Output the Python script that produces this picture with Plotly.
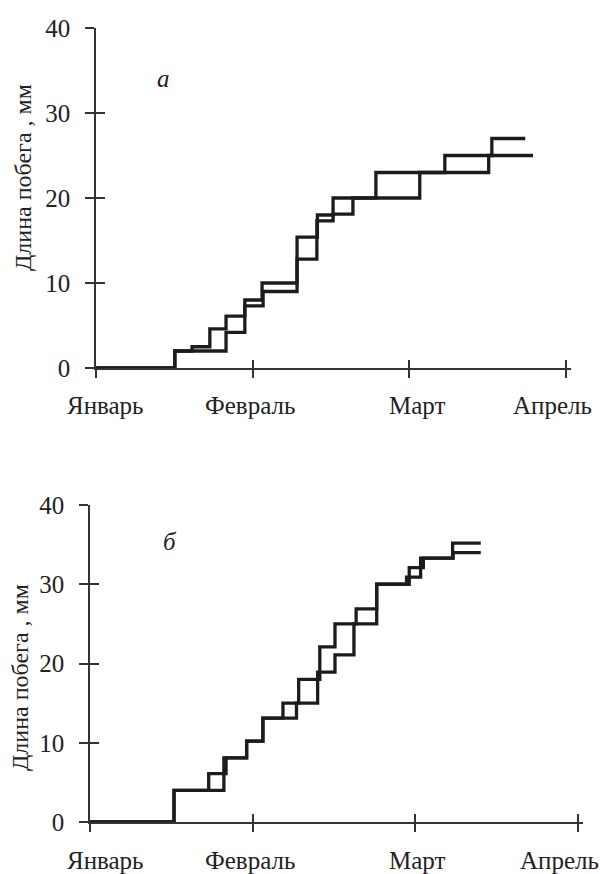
import plotly.graph_objects as go

# ---- data (days since 1 January; shoot length, mm) ----
a_days_1 = [0, 15.1, 18.4, 21.8, 24.9, 28.5, 31.8, 38.5, 42.4, 45.4, 53.6, 66.8, 75.8, 82.2]
a_len_1 = [0, 2, 2.5, 4.6, 6.1, 8, 10, 15.4, 18, 20, 23, 25, 27, 27]
a_days_2 = [0, 15.1, 24.9, 28.5, 32.0, 38.5, 42.3, 45.4, 49.2, 62.0, 75.2, 83.7]
a_len_2 = [0, 2, 4.2, 7.3, 9, 12.8, 17.3, 18.1, 20, 23, 25, 25]

b_days_1 = [0, 15.5, 21.9, 25.1, 28.9, 31.9, 35.6, 38.5, 42.4, 45.2, 49.1, 52.9, 58.9, 61.5, 66.9, 72.1]
b_len_1 = [0, 4, 6.1, 8.1, 10.2, 13.1, 15, 18, 22.1, 25, 26.9, 30, 32.1, 33.3, 35.2, 35.2]
b_days_2 = [0, 15.5, 24.7, 28.9, 31.9, 38.1, 42.0, 45.2, 48.7, 52.9, 58.4, 61.0, 67.0, 72.1]
b_len_2 = [0, 4, 8.1, 10.2, 13.1, 15, 18.9, 21.1, 25, 30, 30.9, 33.3, 34, 34]

month_ticks = [0, 30, 60, 90]
month_names = ["Январь", "Февраль", "Март", "Апрель"]
month_label_pos_a = [1.9, 29.5, 61.5, 87.4]
month_label_pos_b = [2.9, 29.5, 60.3, 86.6]
y_ticks = [0, 10, 20, 30, 40]
y_title = "Длина побега , мм"
panel_labels = ["а", "б"]

W, H = 600, 874
FONT = "Liberation Serif"
LINE = "#1c1c1c"
AX = "#333333"
TXT = "#222222"

fig = go.Figure()

def add_curve(x, y, xa, ya):
    fig.add_trace(go.Scatter(x=x, y=y, mode="lines", line=dict(color=LINE, width=3.3, shape="hv"),
                             xaxis=xa, yaxis=ya, showlegend=False, hoverinfo="skip"))

add_curve(a_days_1, a_len_1, "x", "y")
add_curve(a_days_2, a_len_2, "x", "y")
add_curve(b_days_1, b_len_1, "x2", "y2")
add_curve(b_days_2, b_len_2, "x2", "y2")
# dummy traces so the overlay axes (inward halves of ticks) get drawn
fig.add_trace(go.Scatter(x=[None], y=[None], xaxis="x3", yaxis="y3", showlegend=False, hoverinfo="skip"))
fig.add_trace(go.Scatter(x=[None], y=[None], xaxis="x4", yaxis="y4", showlegend=False, hoverinfo="skip"))

# panel geometry (pixels)
a_x0, a_dx = 96, 5.222
b_x0, b_dx = 90, 5.42
a_y0, a_y40 = 368, 28
b_y0, b_y40 = 822, 505
XMAX = 91

def xdom(x0, dx):
    return [x0 / W, (x0 + XMAX * dx) / W]

def ydom(y0, y40):
    return [(H - y0) / H, (H - y40) / H]

def xaxis(dom, anchor, ticks, overlay=None):
    d = dict(domain=dom, range=[0, XMAX], anchor=anchor, showline=True, linecolor=AX, linewidth=1.6,
             tickvals=month_ticks, showticklabels=False, ticks=ticks, ticklen=8, tickwidth=1.6,
             tickcolor=AX, showgrid=False, zeroline=False, fixedrange=True, automargin=False)
    if overlay:
        d["overlaying"] = overlay
    return d

def yaxis(dom, anchor, ticks, labels, overlay=None):
    d = dict(domain=dom, range=[0, 40], anchor=anchor, showline=True, linecolor=AX, linewidth=1.6,
             tickvals=y_ticks, showticklabels=labels, ticks=ticks, ticklen=9, tickwidth=1.6,
             tickcolor=AX, showgrid=False, zeroline=False, fixedrange=True, automargin=False,
             tickfont=dict(family=FONT, size=25, color=TXT), ticklabelstandoff=10)
    if overlay:
        d["overlaying"] = overlay
    return d

xa_dom, xb_dom = xdom(a_x0, a_dx), xdom(b_x0, b_dx)
ya_dom, yb_dom = ydom(a_y0, a_y40), ydom(b_y0, b_y40)

fig.update_layout(
    width=W, height=H, margin=dict(l=0, r=0, t=0, b=0, autoexpand=False),
    paper_bgcolor="white", plot_bgcolor="white",
    xaxis=xaxis(xa_dom, "y", "outside"),
    yaxis=yaxis(ya_dom, "x", "outside", True),
    xaxis2=xaxis(xb_dom, "y2", "outside"),
    yaxis2=yaxis(yb_dom, "x2", "outside", True),
    xaxis3=xaxis(xa_dom, "y3", "inside", "x"),
    yaxis3=yaxis(ya_dom, "x3", "inside", False, "y"),
    xaxis4=xaxis(xb_dom, "y4", "inside", "x2"),
    yaxis4=yaxis(yb_dom, "x4", "inside", False, "y2"),
)

ann = []
for name, pa, pb in zip(month_names, month_label_pos_a, month_label_pos_b):
    ann.append(dict(x=pa, xref="x", y=(H - 405) / H, yref="paper", text=name, showarrow=False,
                    xanchor="center", yanchor="middle", font=dict(family=FONT, size=25, color=TXT)))
    ann.append(dict(x=pb, xref="x2", y=(H - 860) / H, yref="paper", text=name, showarrow=False,
                    xanchor="center", yanchor="middle", font=dict(family=FONT, size=25, color=TXT)))
ann.append(dict(x=23 / W, y=(H - 178) / H, xref="paper", yref="paper", text=y_title, textangle=-90,
                showarrow=False, xanchor="center", yanchor="middle", font=dict(family=FONT, size=24, color=TXT)))
ann.append(dict(x=20 / W, y=(H - 678) / H, xref="paper", yref="paper", text=y_title, textangle=-90,
                showarrow=False, xanchor="center", yanchor="middle", font=dict(family=FONT, size=24, color=TXT)))
ann.append(dict(x=163 / W, y=(H - 78) / H, xref="paper", yref="paper", text="<i>" + panel_labels[0] + "</i>",
                showarrow=False, xanchor="center", yanchor="middle", font=dict(family=FONT, size=25, color=TXT)))
ann.append(dict(x=170 / W, y=(H - 541) / H, xref="paper", yref="paper", text="<i>" + panel_labels[1] + "</i>",
                showarrow=False, xanchor="center", yanchor="middle", font=dict(family=FONT, size=25, color=TXT)))
fig.update_layout(annotations=ann)

fig.write_html("out.html", post_script="document.body.style.margin='0';",
               config={"displayModeBar": False})
